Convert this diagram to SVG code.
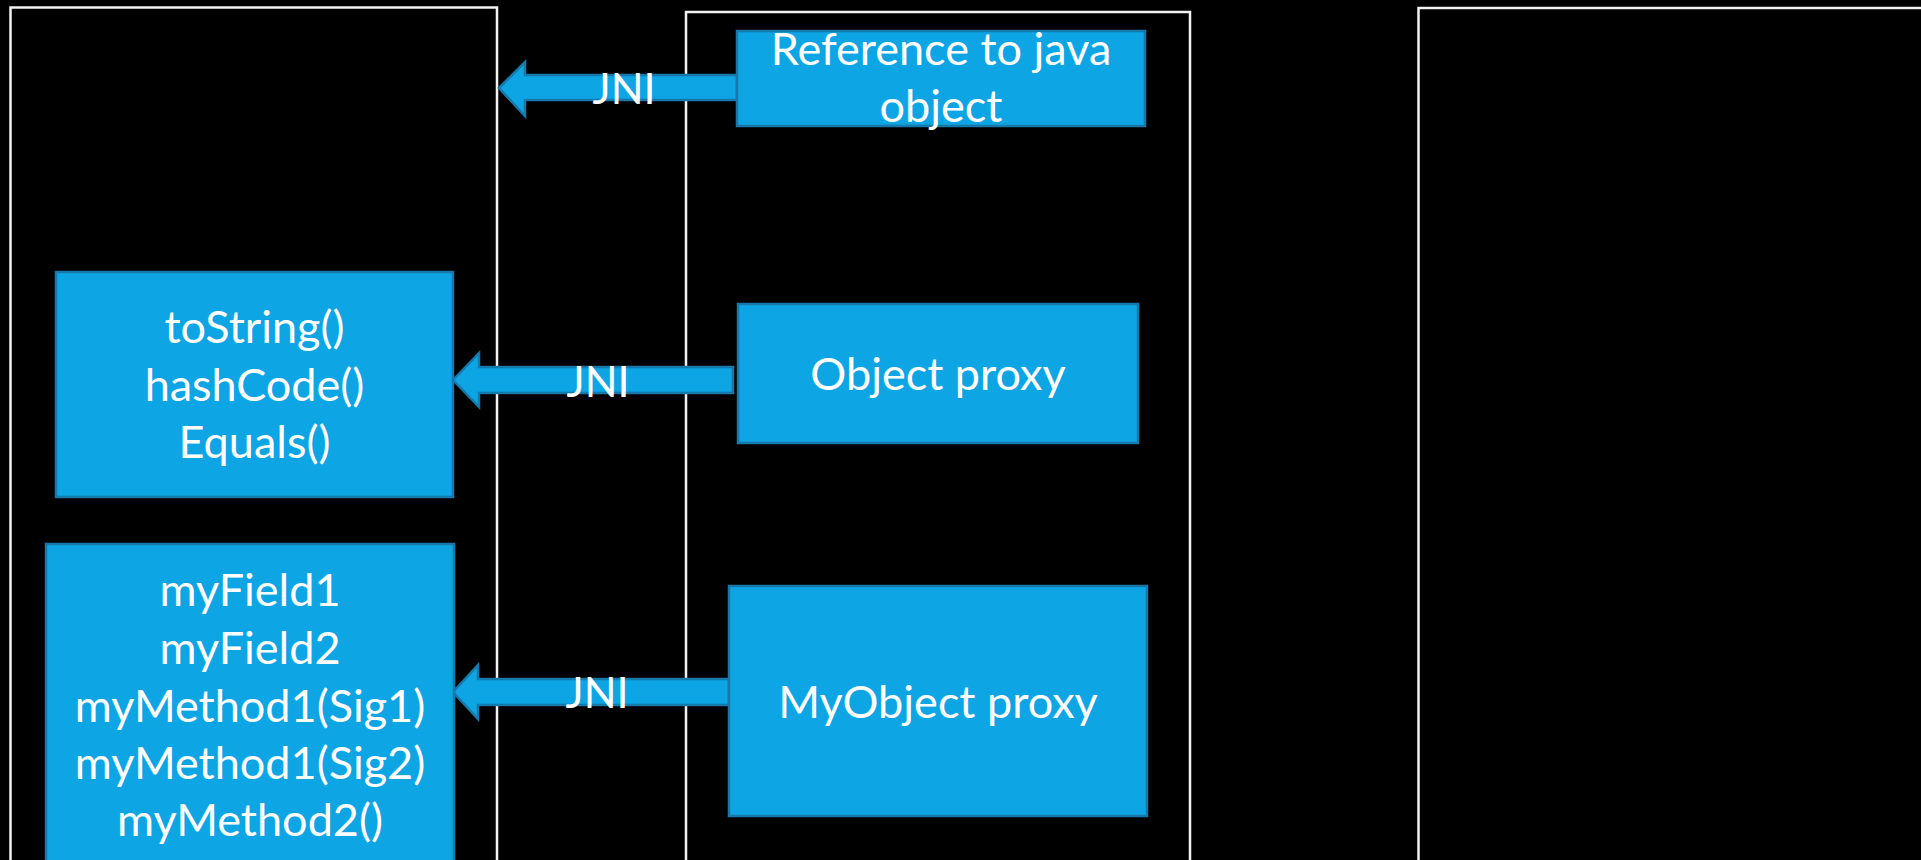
<svg xmlns="http://www.w3.org/2000/svg" width="1921" height="860" viewBox="0 0 1921 860">
  <style>
    .bg { fill: #000000; }
    .frame { fill: none; stroke: #f2f2f2; stroke-width: 2.5; }
    .box { fill: #0ea5e5; stroke: #1679aa; stroke-width: 2.5; }
    .arrow { fill: #0ea5e5; stroke: #1679aa; stroke-width: 2.5; stroke-linejoin: miter; }
    .label { font-family: Lato, "Open Sans", sans-serif; font-size: 45px; fill: #ffffff; text-anchor: middle; }
    .jni { font-size: 43px; }
  </style>
  <rect class="bg" x="0" y="0" width="1921" height="860"/>

  <!-- layer frames -->
  <g id="frames">
    <rect class="frame" x="10.5" y="7.5" width="486.5" height="870"/>
    <rect class="frame" x="686" y="12" width="504" height="870"/>
    <rect class="frame" x="1418.5" y="8" width="540" height="870"/>
  </g>

  <!-- JNI connectors -->
  <g id="connectors">
    <path class="arrow" d="M499,88 L525,62 L525,75 L737,75 L737,100 L525,100 L525,116 Z"/>
    <path class="arrow" d="M453,380 L479,353 L479,367 L733,367 L733,393 L479,393 L479,407 Z"/>
    <path class="arrow" d="M453,692 L478,665 L478,679 L729,679 L729,705 L478,705 L478,719 Z"/>
    <text class="label jni" x="624" y="104">JNI</text>
    <text class="label jni" x="598" y="397">JNI</text>
    <text class="label jni" x="597" y="708">JNI</text>
  </g>

  <g id="java-reference">
    <rect class="box" x="737" y="31" width="408" height="95"/>
    <text class="label" x="941" y="65">Reference to java</text>
    <text class="label" x="941" y="122">object</text>
  </g>

  <g id="object-proxy">
    <rect class="box" x="738" y="304" width="400" height="139"/>
    <text class="label" x="938" y="390">Object proxy</text>
  </g>

  <g id="myobject-proxy">
    <rect class="box" x="729" y="586" width="418" height="230"/>
    <text class="label" x="938" y="718">MyObject proxy</text>
  </g>

  <g id="object-methods">
    <rect class="box" x="56" y="272" width="397" height="225"/>
    <text class="label" x="254.5" y="343">toString()</text>
    <text class="label" x="254.5" y="401">hashCode()</text>
    <text class="label" x="254.5" y="458">Equals()</text>
  </g>

  <g id="myobject-members">
    <rect class="box" x="46" y="544" width="408" height="330"/>
    <text class="label" x="250" y="606">myField1</text>
    <text class="label" x="250" y="664">myField2</text>
    <text class="label" x="250" y="722">myMethod1(Sig1)</text>
    <text class="label" x="250" y="779">myMethod1(Sig2)</text>
    <text class="label" x="250" y="836">myMethod2()</text>
  </g>
</svg>
